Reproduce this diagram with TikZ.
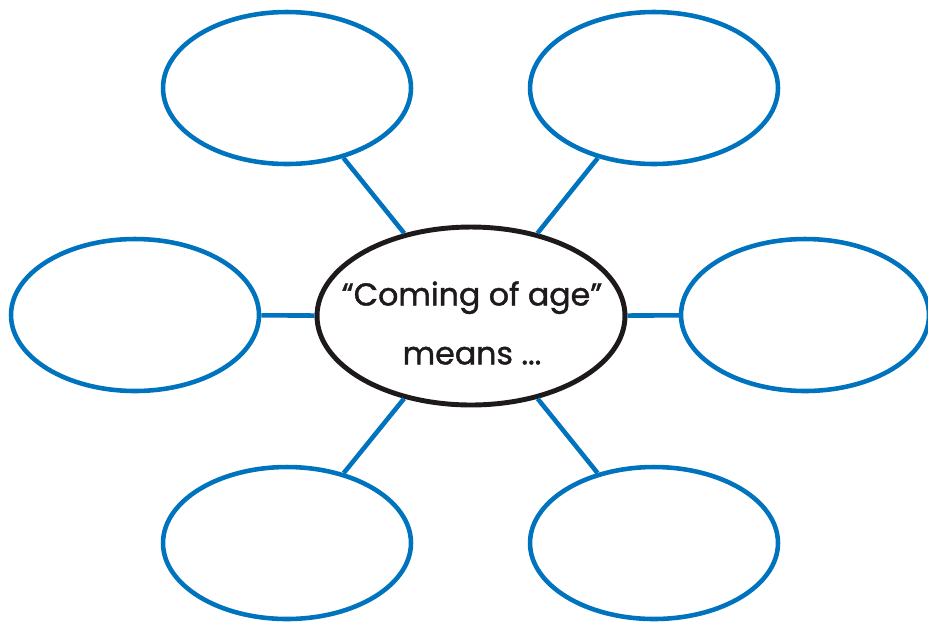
\documentclass[tikz,border=0pt]{standalone}
\usepackage{fontspec}
\setmainfont{Poppins}
\newfontfamily\hubfont{Poppins}[RawFeature={embolden=1.3}]
\usetikzlibrary{shapes.geometric}
\definecolor{mapblue}{RGB}{0,115,190}
\definecolor{mapblack}{RGB}{30,26,27}

\begin{document}
\begin{tikzpicture}[x=0.02cm,y=-0.02cm]

\tikzset{bubble/.style={ellipse,draw=mapblue,line width=2.6pt,minimum width=4.96cm,minimum height=3.04cm,inner sep=0pt},
    hub/.style={ellipse,draw=mapblack,line width=2.8pt,minimum width=6.16cm,minimum height=3.56cm,inner sep=0pt},
    spoke/.style={draw=mapblue,line width=2.6pt}}

\useasboundingbox (0,0) rectangle (928,623);

%% Centre
\node[hub] (mid) at (471,316) {};
\node[align=center,font=\hubfont\fontsize{18}{33.5}\selectfont,text=mapblack] (midtext) at (472,323) {“Coming of age”\\means ...};

%% Bubbles
\node[bubble] (tl) at (287,88) {};
\node[bubble] (tr) at (654,88) {};
\node[bubble] (l) at (135,315) {};
\node[bubble] (r) at (805,315) {};
\node[bubble] (bl) at (287,543) {};
\node[bubble] (br) at (654,543) {};

%% Spokes
\foreach \b in {tl,tr,l,r,bl,br}{
    \draw[spoke] (mid) -- (\b);
}

\end{tikzpicture}
\end{document}
